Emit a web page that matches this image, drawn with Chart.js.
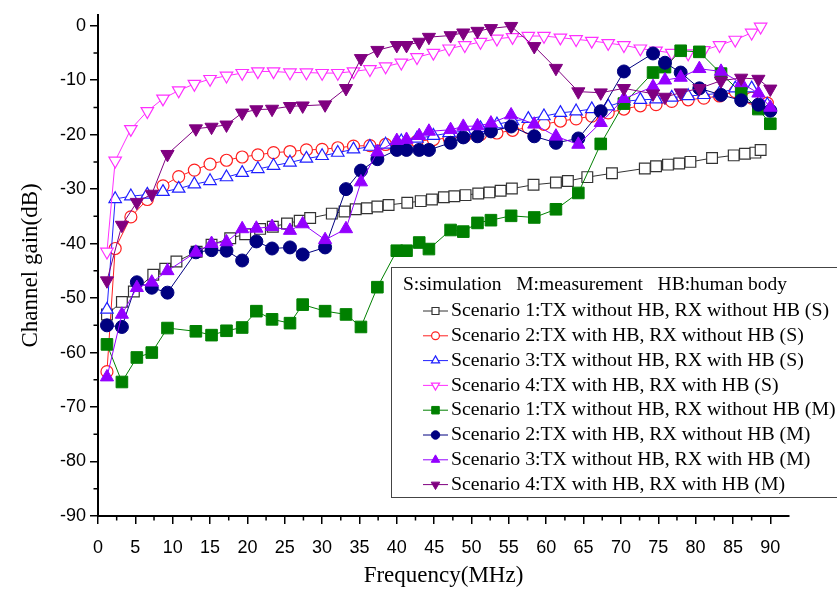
<!DOCTYPE html>
<html>
<head>
<meta charset="utf-8">
<script src="https://cdn.jsdelivr.net/npm/chart.js@4.4.1/dist/chart.umd.min.js"></script>
<style>
  html, body { margin: 0; padding: 0; background: #fff; }
</style>
</head>
<body>
<canvas id="gainChart" width="837" height="592"></canvas>
<script>
// simulation frequencies (MHz), scenarios 2-4
const simFreq = [1.2, 2.3, 4.4, 6.6, 8.7, 10.8, 12.9, 15.0, 17.2, 19.3, 21.4, 23.5, 25.7, 27.9, 30.0,
    32.1, 34.2, 36.4, 38.5, 40.6, 42.7, 44.9, 47.0, 49.1, 51.2, 53.4, 55.5, 57.6, 59.7, 61.9,
    64.0, 66.1, 68.3, 70.4, 72.6, 74.7, 76.8, 79.0, 81.1, 83.2, 85.3, 87.5, 89.6];
const s4Freq = simFreq.slice(0, -1).concat([88.7]);
// scenario 1 simulation has its own frequency points
const s1Freq = [1.2, 3.2, 4.8, 7.4, 9.0, 10.5, 13.2, 15.2, 17.7, 19.7, 21.7, 23.4, 25.3, 27.0, 28.4,
    31.3, 33.0, 34.5, 36.0, 37.4, 38.9, 41.4, 43.2, 44.7, 46.3, 47.7, 49.2, 50.9, 52.4, 53.9,
    55.4, 58.3, 61.3, 62.9, 65.5, 68.8, 73.2, 74.7, 76.3, 77.8, 79.3, 82.2, 85.1, 86.6, 88.0, 88.7];
// measurement frequencies (MHz)
const measFreq = [1.2, 3.2, 5.2, 7.2, 9.3, 13.1, 15.2, 17.2, 19.3, 21.2, 23.3, 25.7, 27.4, 30.4, 33.2,
    35.2, 37.4, 40.0, 41.3, 43.0, 44.3, 47.2, 48.9, 50.8, 52.6, 55.3, 58.4, 61.3, 64.3, 67.3,
    70.4, 74.3, 75.9, 78.0, 80.5, 83.4, 86.1, 88.4, 90.0];

const s1Gain = [-53.0, -50.7, -48.8, -45.7, -44.6, -43.3, -41.5, -40.2, -39.0, -38.3, -37.3, -36.9, -36.3, -35.8, -35.3,
    -34.5, -34.1, -33.7, -33.5, -33.2, -32.9, -32.5, -32.2, -31.9, -31.5, -31.3, -31.1, -30.8, -30.6, -30.3,
    -29.9, -29.2, -28.8, -28.5, -27.8, -27.1, -26.2, -25.8, -25.5, -25.3, -25.0, -24.3, -23.8, -23.5, -23.3, -22.8];
const s2Gain = [-63.5, -40.9, -35.1, -31.9, -29.4, -27.7, -26.5, -25.4, -24.7, -24.1, -23.7, -23.3, -23.1, -22.8, -22.7,
    -22.4, -22.1, -22.0, -21.8, -21.5, -21.2, -20.9, -20.6, -20.3, -20.0, -19.7, -19.2, -18.7, -18.1, -17.5,
    -17.1, -16.6, -16.0, -15.3, -14.7, -14.5, -13.9, -13.6, -13.3, -12.9, -12.1, -13.3, -14.2];
const s3Gain = [-52.1, -31.8, -31.3, -31.0, -30.5, -29.9, -29.1, -28.5, -27.8, -27.0, -26.3, -25.7, -25.1, -24.4, -23.9,
    -23.3, -22.7, -22.2, -21.8, -21.2, -20.7, -20.2, -19.7, -19.3, -18.8, -18.1, -17.5, -17.1, -16.6, -16.0,
    -15.7, -15.3, -14.8, -13.9, -13.6, -13.5, -13.2, -12.9, -12.7, -12.4, -11.5, -11.5, -14.5];
const s4Gain = [-41.5, -24.8, -19.0, -15.7, -13.4, -11.9, -10.7, -9.8, -9.2, -8.7, -8.4, -8.4, -8.6, -8.6, -8.7,
    -8.7, -8.4, -8.0, -7.5, -6.8, -5.8, -5.0, -4.2, -3.6, -3.0, -2.4, -2.1, -1.9, -1.9, -2.2,
    -2.5, -2.8, -3.2, -3.6, -4.2, -4.6, -5.0, -5.1, -4.5, -3.6, -2.6, -1.3, -0.2];

const m1Gain = [-58.5, -65.4, -60.9, -60.0, -55.5, -56.1, -56.8, -56.0, -55.4, -52.4, -53.9, -54.6, -51.2, -52.4, -53.0,
    -55.3, -48.0, -41.3, -41.3, -39.8, -41.0, -37.5, -37.8, -36.2, -35.7, -34.9, -35.2, -33.7, -30.7, -21.7,
    -14.3, -8.6, -7.6, -4.6, -4.8, -8.8, -12.3, -15.3, -18.0];
const m2Gain = [-55.0, -55.3, -47.1, -48.1, -49.0, -41.6, -41.2, -41.3, -43.1, -39.6, -40.9, -40.7, -42.0, -40.7, -30.0,
    -26.6, -24.5, -22.8, -22.8, -22.8, -22.8, -21.5, -20.5, -20.3, -19.4, -18.5, -20.3, -21.5, -20.7, -15.7,
    -8.4, -5.1, -6.8, -8.6, -11.5, -12.7, -13.7, -14.5, -15.6];
const m3Gain = [-64.5, -53.0, -48.1, -47.1, -45.0, -41.6, -40.0, -39.7, -37.3, -37.2, -36.9, -37.6, -36.4, -39.3, -37.3,
    -28.7, -23.2, -21.1, -20.9, -20.2, -19.4, -19.1, -18.5, -18.4, -17.9, -16.4, -18.1, -20.3, -21.8, -17.8,
    -13.4, -11.2, -10.0, -9.5, -7.9, -8.4, -10.5, -12.4, -15.0];
const m4Gain = [-46.8, -36.6, -32.4, -30.9, -23.6, -18.9, -18.6, -18.2, -16.0, -15.4, -15.3, -14.8, -14.7, -14.5, -11.5,
    -6.0, -4.5, -3.6, -3.6, -3.0, -2.1, -1.8, -1.3, -1.0, -0.5, -0.1, -3.8, -7.8, -12.1, -12.3,
    -11.5, -12.5, -13.1, -12.3, -11.5, -10.1, -9.6, -9.8, -11.6];

const xTicks = [0, 5, 10, 15, 20, 25, 30, 35, 40, 45, 50, 55, 60, 65, 70, 75, 80, 85, 90];
const yTicks = [0, -10, -20, -30, -40, -50, -60, -70, -80, -90];

const seriesLabels = [
    'Scenario 1:TX without HB, RX without HB (S)',
    'Scenario 2:TX with HB, RX without HB (S)',
    'Scenario 3:TX without HB, RX with HB (S)',
    'Scenario 4:TX with HB, RX with HB (S)',
    'Scenario 1:TX without HB, RX without HB (M)',
    'Scenario 2:TX with HB, RX without HB (M)',
    'Scenario 3:TX without HB, RX with HB (M)',
    'Scenario 4:TX with HB, RX with HB (M)'
];
const legendNote = 'S:simulation   M:measurement   HB:human body';

const serif = '"Liberation Serif", "Times New Roman", serif';
const sans = '"Liberation Sans", Arial, sans-serif';

function pts(xs, ys) {
    return xs.map((x, i) => ({ x: x, y: ys[i] }));
}

function series(i, xs, ys, color, style, radius, filled, rotation) {
    return {
        label: seriesLabels[i],
        data: pts(xs, ys),
        showLine: true,
        borderColor: color,
        borderWidth: 1,
        backgroundColor: filled ? color : '#ffffff',
        pointBackgroundColor: filled ? color : '#ffffff',
        pointBorderColor: color,
        pointBorderWidth: filled ? 1 : 1.2,
        pointStyle: style,
        pointRadius: radius,
        pointRotation: rotation || 0,
        tension: 0,
        order: 8 - i
    };
}

const datasets = [
    series(0, s1Freq, s1Gain, '#333333', 'rect', 7.6, false),
    series(1, simFreq, s2Gain, '#ff2020', 'circle', 6, false),
    series(2, simFreq, s3Gain, '#2020ff', 'triangle', 7.2, false),
    series(3, s4Freq, s4Gain, '#ff30ff', 'triangle', 7.2, false, 180),
    series(4, measFreq, m1Gain, '#008000', 'rect', 8.2, true),
    series(5, measFreq, m2Gain, '#000080', 'circle', 6.5, true),
    series(6, measFreq, m3Gain, '#9400ff', 'triangle', 7.6, true),
    series(7, measFreq, m4Gain, '#800080', 'triangle', 7.6, true, 180)
];

// minor ticks + the boxed legend
const decorations = {
    id: 'decorations',
    afterDraw(chart) {
        const ctx = chart.ctx;
        const xs = chart.scales.x, ys = chart.scales.y;
        const area = chart.chartArea;
        ctx.save();
        ctx.strokeStyle = '#000';
        ctx.lineWidth = 1.5;
        ctx.beginPath();
        for (let v = 2.5; v < 92; v += 5) {
            const px = xs.getPixelForValue(v);
            ctx.moveTo(px, area.bottom);
            ctx.lineTo(px, area.bottom + 4.5);
        }
        for (let v = -85; v < 0; v += 10) {
            const py = ys.getPixelForValue(v);
            ctx.moveTo(area.left, py);
            ctx.lineTo(area.left - 4.5, py);
        }
        ctx.stroke();

        // legend box
        const bx = 391, by = 267, bw = 460, bh = 230;
        ctx.fillStyle = '#fff';
        ctx.fillRect(bx, by, bw, bh);
        ctx.strokeStyle = '#444';
        ctx.lineWidth = 1;
        ctx.strokeRect(bx + 0.5, by + 0.5, bw, bh);

        ctx.fillStyle = '#000';
        ctx.textBaseline = 'middle';
        ctx.font = '19.5px ' + serif;
        ctx.fillText(legendNote, 403, 285);

        ctx.font = '19.8px ' + serif;
        chart.data.datasets.forEach((ds, i) => {
            const y = 311 + 24.8 * i;
            ctx.strokeStyle = ds.borderColor;
            ctx.lineWidth = 1;
            ctx.beginPath();
            ctx.moveTo(423, y);
            ctx.lineTo(448, y);
            ctx.stroke();
            ctx.fillStyle = ds.pointBackgroundColor;
            ctx.strokeStyle = ds.pointBorderColor;
            ctx.lineWidth = ds.pointBorderWidth;
            Chart.helpers.drawPoint(ctx, {
                pointStyle: ds.pointStyle,
                radius: ds.pointRadius * 0.65,
                rotation: ds.pointRotation,
                borderWidth: ds.pointBorderWidth
            }, 435.5, y);
            ctx.fillStyle = '#000';
            ctx.fillText(ds.label, 451, y);
        });
        ctx.restore();
    }
};

new Chart(document.getElementById('gainChart'), {
    type: 'scatter',
    data: { datasets: datasets },
    options: {
        responsive: false,
        animation: false,
        events: [],
        layout: { padding: { left: 0, right: 48, top: 10, bottom: 0 } },
        plugins: {
            legend: { display: false },
            tooltip: { enabled: false }
        },
        scales: {
            x: {
                type: 'linear',
                min: 0,
                max: 92.5,
                afterBuildTicks: s => { s.ticks = xTicks.map(v => ({ value: v })); },
                afterFit: s => { s.height = 76; },
                ticks: {
                    autoSkip: false,
                    maxRotation: 0,
                    padding: 13,
                    color: '#000',
                    font: { family: sans, size: 18 }
                },
                grid: { drawOnChartArea: false, tickLength: 8, color: '#000', lineWidth: 1.5 },
                border: { color: '#000', width: 2 },
                title: {
                    display: true,
                    text: 'Frequency(MHz)',
                    color: '#000',
                    font: { family: serif, size: 23 },
                    padding: { top: 0, bottom: 2 }
                }
            },
            y: {
                type: 'linear',
                min: -90,
                max: 2,
                afterBuildTicks: s => { s.ticks = yTicks.map(v => ({ value: v })); },
                afterFit: s => { s.width = 98; },
                ticks: {
                    autoSkip: false,
                    padding: 4,
                    color: '#000',
                    font: { family: sans, size: 18 }
                },
                grid: { drawOnChartArea: false, tickLength: 8, color: '#000', lineWidth: 1.5 },
                border: { color: '#000', width: 2 },
                title: {
                    display: true,
                    text: 'Channel gain(dB)',
                    color: '#000',
                    font: { family: serif, size: 23 },
                    padding: { top: 17, bottom: 0 }
                }
            }
        }
    },
    plugins: [decorations]
});
</script>
</body>
</html>
